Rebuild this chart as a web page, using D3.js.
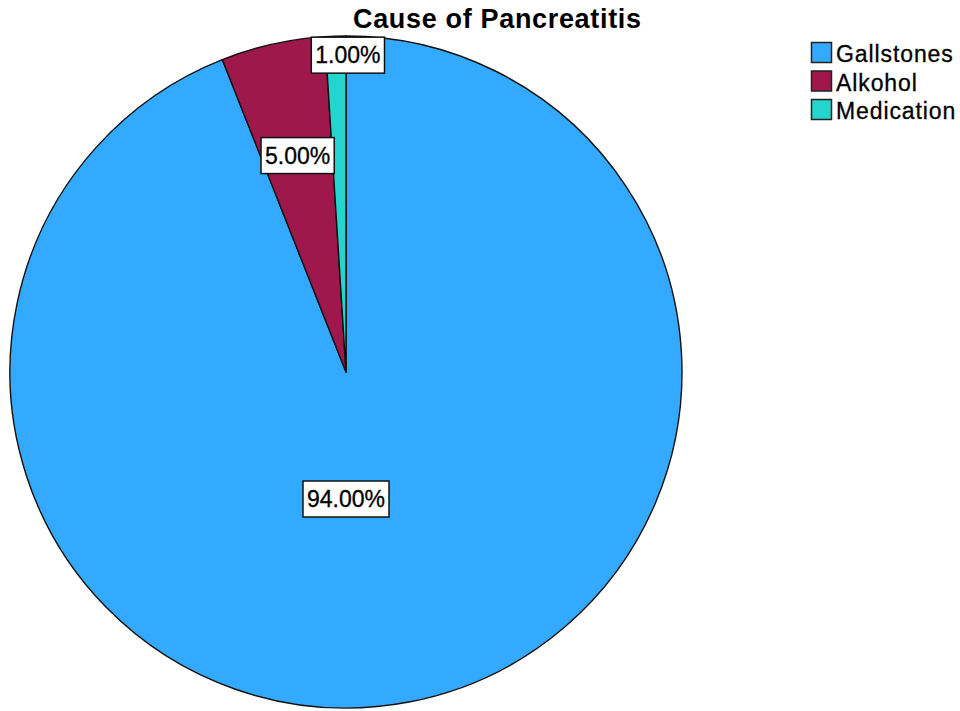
<!DOCTYPE html>
<html>
<head>
<meta charset="utf-8">
<script src="https://cdn.jsdelivr.net/npm/d3@7"></script>
<style>
  html, body { margin: 0; padding: 0; background: #fff; }
  svg { display: block; }
  text { font-family: "Liberation Sans", Arial, sans-serif; }
</style>
</head>
<body>
<svg id="chart" width="960" height="711"></svg>
<script>
// Causes of pancreatitis, share of patients (%)
const categories = ["Gallstones", "Alkohol", "Medication"];
const values = [94.0, 5.0, 1.0];
const colors = ["#33aaff", "#9e184b", "#25d4cc"];
const chartTitle = "Cause of Pancreatitis";

const svg = d3.select("#chart");
const cx = 346, cy = 372, R = 336;

// Slices run clockwise from 12 o'clock
const pie = d3.pie().sort(null).value(d => d.value);
const data = categories.map((c, i) => ({ name: c, value: values[i], color: colors[i] }));
const arcs = pie(data);
const total = d3.sum(values);

const arc = d3.arc().innerRadius(0).outerRadius(R);
const g = svg.append("g").attr("transform", `translate(${cx},${cy})`);

g.selectAll("path.slice")
  .data(arcs)
  .join("path")
  .attr("class", "slice")
  .attr("d", arc)
  .attr("fill", d => d.data.color)
  .attr("stroke", "#111")
  .attr("stroke-width", 1.4)
  .attr("stroke-linejoin", "round");

// Label placement: tiny slices get the label near the rim at their closing edge,
// mid-sized ones along the bisector, the dominant slice straight below the centre.
const fmt = d => (d.value / total * 100).toFixed(2) + "%";
function labelPoint(d) {
  const share = d.value / total;
  let a = (d.startAngle + d.endAngle) / 2;
  let rf;
  if (share > 0.5) { a = Math.PI; rf = 0.378; }
  else if (share < 0.02) { a = d.endAngle + 0.006; rf = 0.943; }
  else { rf = 0.66; }
  return [Math.sin(a) * R * rf, -Math.cos(a) * R * rf];
}

const labels = g.selectAll("g.lbl")
  .data(arcs)
  .join("g")
  .attr("class", "lbl")
  .attr("transform", d => { const p = labelPoint(d); return `translate(${p[0]},${p[1]})`; });

labels.append("text")
  .attr("text-anchor", "middle")
  .attr("y", 8)
  .attr("font-size", 23)
  .attr("fill", "#000")
  .attr("stroke", "#000")
  .attr("stroke-width", 0.3)
  .text(fmt);

labels.each(function() {
  const t = d3.select(this).select("text");
  const bb = t.node().getBBox();
  const w = bb.width + 8, h = 36;
  d3.select(this).insert("rect", "text")
    .attr("x", -w / 2)
    .attr("y", -h / 2)
    .attr("width", w)
    .attr("height", h)
    .attr("fill", "#fff")
    .attr("stroke", "#111")
    .attr("stroke-width", 1.5);
});

// Title
svg.append("text")
  .attr("x", 497)
  .attr("y", 28)
  .attr("text-anchor", "middle")
  .attr("font-size", 27)
  .attr("font-weight", "bold")
  .attr("fill", "#000")
  .attr("textLength", 288)
  .attr("lengthAdjust", "spacing")
  .text(chartTitle);

// Legend
const legend = svg.append("g").attr("transform", "translate(811,42)");
const rows = legend.selectAll("g")
  .data(data)
  .join("g")
  .attr("transform", (d, i) => `translate(0,${i * 28.5})`);
rows.append("rect")
  .attr("x", 0.5).attr("y", 0.5)
  .attr("width", 20).attr("height", 20)
  .attr("fill", d => d.color)
  .attr("stroke", "#222")
  .attr("stroke-width", 1.5);
rows.append("text")
  .attr("x", 25)
  .attr("y", 20)
  .attr("font-size", 23)
  .attr("fill", "#000")
  .attr("stroke", "#000")
  .attr("stroke-width", 0.3)
  .attr("letter-spacing", 0.9)
  .text(d => d.name);
</script>
</body>
</html>
